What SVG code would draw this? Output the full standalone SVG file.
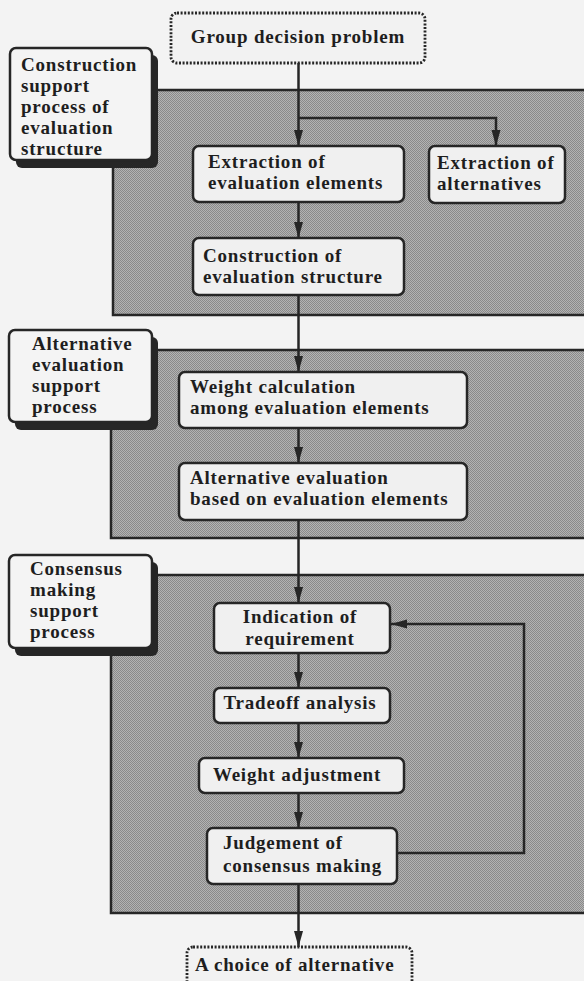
<svg xmlns="http://www.w3.org/2000/svg" width="584" height="981" viewBox="0 0 584 981">
<defs>
<pattern id="dots" width="2" height="2" patternUnits="userSpaceOnUse">
<rect width="2" height="2" fill="#b3b3b3"/>
<rect x="0" y="0" width="1" height="1" fill="#8a8a8a"/>
<rect x="1" y="1" width="1" height="1" fill="#8a8a8a"/>
</pattern>
<marker id="arr" markerWidth="16" markerHeight="10" refX="16" refY="5" orient="auto" markerUnits="userSpaceOnUse">
<path d="M0,0.5 L16,5 L0,9.5 Z" fill="#262626"/>
</marker>
</defs>
<style>
text{font-family:"Liberation Serif","Times New Roman",serif;font-weight:bold;font-size:19px;letter-spacing:0.8px;fill:#1e1e1e}
.panel{fill:url(#dots);stroke:#262626;stroke-width:2.5}
.box{fill:#f0f0f0;stroke:#262626;stroke-width:2.5}
.term{fill:#f2f2f2;stroke:#262626;stroke-width:2.8;stroke-dasharray:2 1.6}
.shadow{fill:#262626}
.lbl{fill:#f4f4f4;stroke:#262626;stroke-width:2.5}
.c{text-anchor:middle}
#connectors path{fill:none;stroke:#262626;stroke-width:2.5}
</style>
<rect width="584" height="981" fill="#f3f3f3"/>

<g id="panels">
<rect id="panel-construction" class="panel" x="113" y="90" width="500" height="225"/>
<rect id="panel-alternative" class="panel" x="111" y="350" width="500" height="188"/>
<rect id="panel-consensus" class="panel" x="111" y="575" width="500" height="338"/>
</g>

<g id="label-construction">
<rect class="shadow" x="16" y="55" width="142" height="113" rx="6"/>
<rect class="lbl" x="10" y="48" width="142" height="112" rx="6"/>
<text x="21" y="71">Construction</text>
<text x="21" y="92">support</text>
<text x="21" y="113">process of</text>
<text x="21" y="134">evaluation</text>
<text x="21" y="155">structure</text>
</g>

<g id="label-alternative">
<rect class="shadow" x="15" y="337" width="143" height="93" rx="6"/>
<rect class="lbl" x="9" y="330" width="143" height="92" rx="6"/>
<text x="32" y="350">Alternative</text>
<text x="32" y="371">evaluation</text>
<text x="32" y="392">support</text>
<text x="32" y="413">process</text>
</g>

<g id="label-consensus">
<rect class="shadow" x="15" y="562" width="143" height="94" rx="6"/>
<rect class="lbl" x="9" y="555" width="143" height="93" rx="6"/>
<text x="30" y="575">Consensus</text>
<text x="30" y="596">making</text>
<text x="30" y="617">support</text>
<text x="30" y="638">process</text>
</g>

<g id="connectors">
<path d="M298.5,63 V146" marker-end="url(#arr)"/>
<path d="M298.5,118 H496 V146" marker-end="url(#arr)"/>
<path d="M298.5,202 V238" marker-end="url(#arr)"/>
<path d="M298.5,295 V372" marker-end="url(#arr)"/>
<path d="M298.5,428 V463" marker-end="url(#arr)"/>
<path d="M298.5,520 V603" marker-end="url(#arr)"/>
<path d="M298.5,653 V688" marker-end="url(#arr)"/>
<path d="M298.5,723 V758" marker-end="url(#arr)"/>
<path d="M298.5,793 V828" marker-end="url(#arr)"/>
<path d="M298.5,884 V947" marker-end="url(#arr)"/>
<path d="M397,853 H524 V624 H391" marker-end="url(#arr)"/>
</g>

<g id="group-decision-problem">
<rect class="term" x="171" y="13" width="254" height="50" rx="6"/>
<text class="c" x="298" y="43">Group decision problem</text>
</g>

<g id="extraction-evaluation-elements">
<rect class="box" x="193" y="146" width="211" height="56" rx="6"/>
<text x="208" y="168">Extraction of</text>
<text x="208" y="189">evaluation elements</text>
</g>

<g id="extraction-alternatives">
<rect class="box" x="429" y="146" width="136" height="57" rx="6"/>
<text x="437" y="169">Extraction of</text>
<text x="437" y="190">alternatives</text>
</g>

<g id="construction-evaluation-structure">
<rect class="box" x="193" y="238" width="211" height="57" rx="6"/>
<text x="203" y="262">Construction of</text>
<text x="203" y="283">evaluation structure</text>
</g>

<g id="weight-calculation">
<rect class="box" x="179" y="372" width="288" height="56" rx="6"/>
<text x="190" y="393">Weight calculation</text>
<text x="190" y="414">among evaluation elements</text>
</g>

<g id="alternative-evaluation">
<rect class="box" x="179" y="463" width="288" height="57" rx="6"/>
<text x="190" y="484">Alternative evaluation</text>
<text x="190" y="505">based on evaluation elements</text>
</g>

<g id="indication-requirement">
<rect class="box" x="214" y="603" width="176" height="50" rx="6"/>
<text class="c" x="300" y="623">Indication of</text>
<text class="c" x="300" y="645">requirement</text>
</g>

<g id="tradeoff-analysis">
<rect class="box" x="214" y="688" width="176" height="35" rx="6"/>
<text class="c" x="300" y="709">Tradeoff analysis</text>
</g>

<g id="weight-adjustment">
<rect class="box" x="199" y="758" width="205" height="35" rx="6"/>
<text class="c" x="297" y="781">Weight adjustment</text>
</g>

<g id="judgement-consensus">
<rect class="box" x="207" y="828" width="190" height="56" rx="6"/>
<text x="223" y="849">Judgement of</text>
<text x="223" y="872">consensus making</text>
</g>

<g id="choice-of-alternative">
<rect class="term" x="187" y="947" width="225" height="50" rx="6"/>
<text x="195" y="971">A choice of alternative</text>
</g>
</svg>
